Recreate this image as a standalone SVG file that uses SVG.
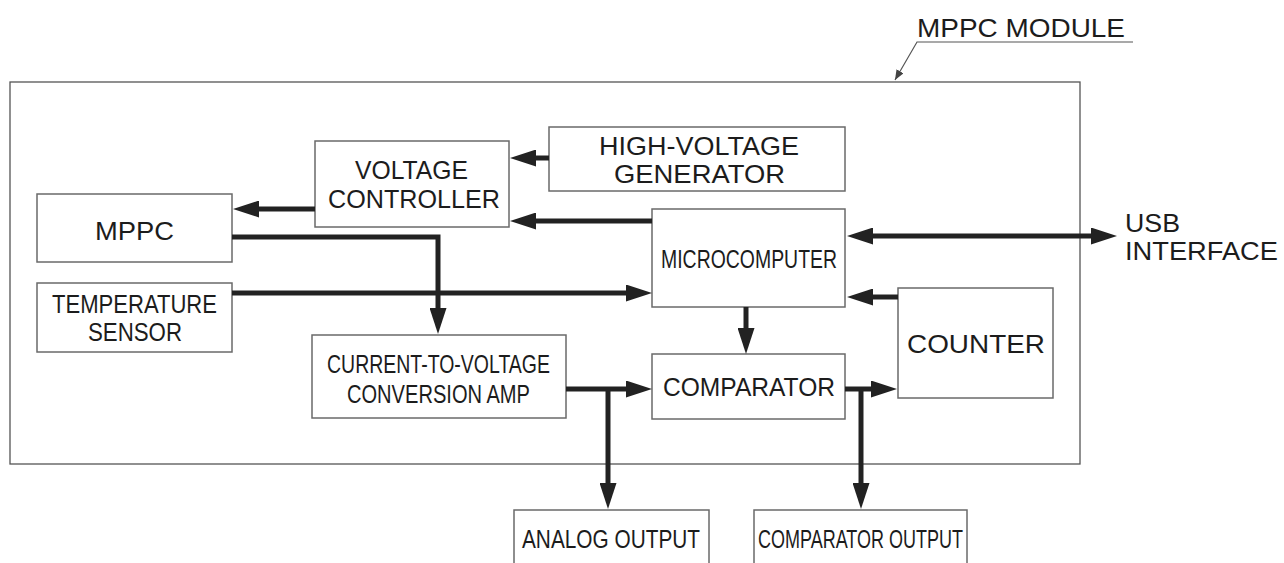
<svg xmlns="http://www.w3.org/2000/svg" width="1284" height="563" viewBox="0 0 1284 563">
<style>
.box{fill:#fff;stroke:#6a6a6a;stroke-width:1.5}
.mod{fill:none;stroke:#555;stroke-width:1.3}
.t{font-family:"Liberation Sans",Arial,sans-serif;font-size:26px;fill:#1c1c1c}
.c{fill:none;stroke:#222;stroke-width:5}
.ld{fill:none;stroke:#555;stroke-width:1.2}
</style>
<defs>
<marker id="ah" markerUnits="userSpaceOnUse" viewBox="0 0 26 17" refX="1" refY="8.5" markerWidth="26" markerHeight="17" orient="auto-start-reverse">
<path d="M0,0 L26,8.5 L0,17 z" fill="#222"/>
</marker>
<marker id="sh" markerUnits="userSpaceOnUse" viewBox="0 0 10 8" refX="10" refY="4" markerWidth="10" markerHeight="8" orient="auto">
<path d="M0,0 L10,4 L0,8 z" fill="#444"/>
</marker>
</defs>
<rect width="1284" height="563" fill="#fff"/>

<g id="module">
<rect class="mod" x="10" y="82" width="1070" height="382"/>
<text class="t" x="917" y="37" textLength="208" lengthAdjust="spacingAndGlyphs">MPPC MODULE</text>
<path class="ld" d="M1133,42 H917 L895,80" marker-end="url(#sh)"/>
</g>

<g id="hv-generator">
<rect class="box" x="549" y="127" width="296" height="64"/>
<text class="t" x="599" y="155" textLength="200" lengthAdjust="spacingAndGlyphs">HIGH-VOLTAGE</text>
<text class="t" x="614" y="183" textLength="171" lengthAdjust="spacingAndGlyphs">GENERATOR</text>
</g>

<g id="voltage-controller">
<rect class="box" x="315" y="141" width="194" height="86"/>
<text class="t" x="355" y="179" textLength="113" lengthAdjust="spacingAndGlyphs">VOLTAGE</text>
<text class="t" x="328" y="208" textLength="172" lengthAdjust="spacingAndGlyphs">CONTROLLER</text>
</g>

<g id="mppc">
<rect class="box" x="37" y="194" width="195" height="68"/>
<text class="t" x="95" y="240" textLength="79" lengthAdjust="spacingAndGlyphs">MPPC</text>
</g>

<g id="temperature-sensor">
<rect class="box" x="37" y="283" width="195" height="69"/>
<text class="t" x="52" y="313" textLength="165" lengthAdjust="spacingAndGlyphs">TEMPERATURE</text>
<text class="t" x="88" y="341" textLength="94" lengthAdjust="spacingAndGlyphs">SENSOR</text>
</g>

<g id="microcomputer">
<rect class="box" x="652" y="209" width="193" height="98"/>
<text class="t" x="661" y="268" textLength="176" lengthAdjust="spacingAndGlyphs">MICROCOMPUTER</text>
</g>

<g id="counter">
<rect class="box" x="898" y="288" width="155" height="110"/>
<text class="t" x="907" y="353" textLength="138" lengthAdjust="spacingAndGlyphs">COUNTER</text>
</g>

<g id="iv-amp">
<rect class="box" x="312" y="335" width="254" height="83"/>
<text class="t" x="327" y="373" textLength="223" lengthAdjust="spacingAndGlyphs">CURRENT-TO-VOLTAGE</text>
<text class="t" x="347" y="403" textLength="183" lengthAdjust="spacingAndGlyphs">CONVERSION AMP</text>
</g>

<g id="comparator">
<rect class="box" x="652" y="354" width="193" height="65"/>
<text class="t" x="663" y="396" textLength="172" lengthAdjust="spacingAndGlyphs">COMPARATOR</text>
</g>

<g id="analog-output">
<rect class="box" x="514" y="510" width="195" height="70"/>
<text class="t" x="522" y="548" textLength="178" lengthAdjust="spacingAndGlyphs">ANALOG OUTPUT</text>
</g>

<g id="comparator-output">
<rect class="box" x="754" y="510" width="213" height="70"/>
<text class="t" x="758" y="548" textLength="205" lengthAdjust="spacingAndGlyphs">COMPARATOR OUTPUT</text>
</g>

<g id="usb-interface">
<text class="t" x="1125" y="232" textLength="55" lengthAdjust="spacingAndGlyphs">USB</text>
<text class="t" x="1125" y="260" textLength="153" lengthAdjust="spacingAndGlyphs">INTERFACE</text>
</g>

<g id="connectors">
<path class="c" d="M549,158 H535" marker-end="url(#ah)"/>
<path class="c" d="M652,221 H535" marker-end="url(#ah)"/>
<path class="c" d="M315,209 H258" marker-end="url(#ah)"/>
<path class="c" d="M232,237 H438 V309" marker-end="url(#ah)"/>
<path class="c" d="M232,293 H627" marker-end="url(#ah)"/>
<path class="c" d="M872,236 H1092" marker-start="url(#ah)" marker-end="url(#ah)"/>
<path class="c" d="M898,297 H872" marker-end="url(#ah)"/>
<path class="c" d="M746,307 V329" marker-end="url(#ah)"/>
<path class="c" d="M566,389 H627" marker-end="url(#ah)"/>
<path class="c" d="M608,389 V484" marker-end="url(#ah)"/>
<path class="c" d="M845,389 H872" marker-end="url(#ah)"/>
<path class="c" d="M861,389 V484" marker-end="url(#ah)"/>
</g>
</svg>
